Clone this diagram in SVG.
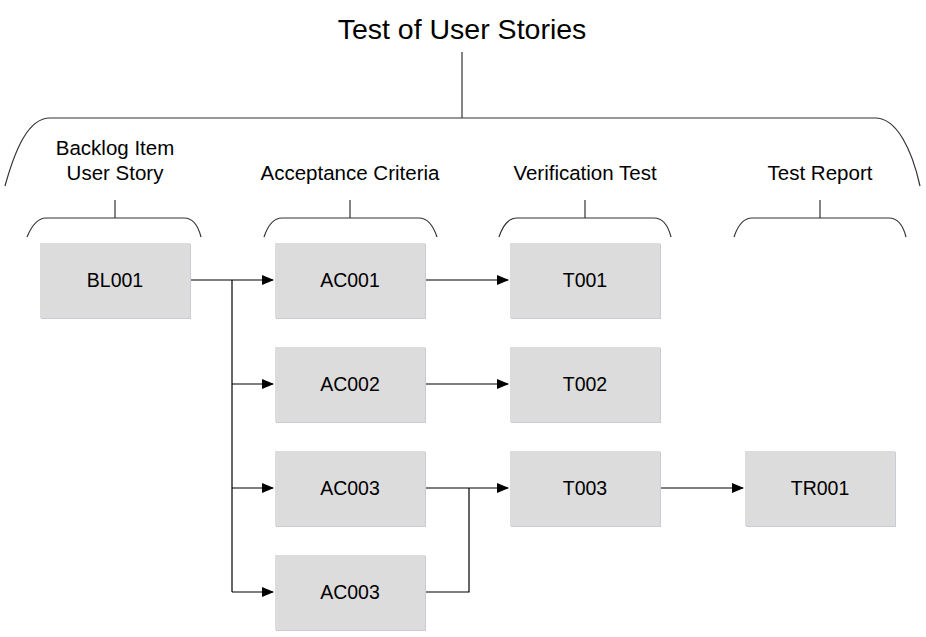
<svg xmlns="http://www.w3.org/2000/svg" width="926" height="637" viewBox="0 0 926 637">
<defs>
<style>
.box{fill:#dcdcdc;}
.shadow{fill:#c8ccd4;}
.nt{font-family:"Liberation Sans",Arial,sans-serif;font-size:19.5px;fill:#000;text-anchor:middle;}
.lbl{font-family:"Liberation Sans",Arial,sans-serif;font-size:20.5px;fill:#000;text-anchor:middle;}
.br{fill:none;stroke:#333;stroke-width:1.2;}
.cn{fill:none;stroke:#000;stroke-width:1.2;}
</style>
<marker id="ah" markerWidth="12" markerHeight="10" refX="11" refY="5" orient="auto" markerUnits="userSpaceOnUse">
<path d="M0,0 L12,5 L0,10 Z" fill="#000"/>
</marker>
</defs>
<rect width="926" height="637" fill="#fff"/>
<g id="title">
<text x="462" y="39" font-family="'Liberation Sans',Arial,sans-serif" font-size="28.5" text-anchor="middle">Test of User Stories</text>
<path class="br" d="M462,52 V118"/>
<path class="br" d="M5,186 C15,150 28,118 50,118 H875 C897,118 912,150 920,186"/>
</g>
<g id="labels">
<text class="lbl" x="115" y="155">Backlog Item</text>
<text class="lbl" x="115" y="180">User Story</text>
<text class="lbl" x="350" y="180">Acceptance Criteria</text>
<text class="lbl" x="585" y="180">Verification Test</text>
<text class="lbl" x="820" y="180">Test Report</text>
<path class="br" d="M115,200 V218 M27,237 C32,225 38,218 46,218 H184 C192,218 198,225 201,237"/>
<path class="br" d="M350,200 V218 M264,237 C268,225 274,218 282,218 H419 C427,218 433,225 437,237"/>
<path class="br" d="M585,200 V218 M499,237 C503,225 509,218 517,218 H654 C662,218 668,225 671,237"/>
<path class="br" d="M820,200 V218 M734,237 C738,225 744,218 752,218 H889 C897,218 903,225 906,237"/>
</g>
<g id="connectors">
<path class="cn" d="M190,280 H273" marker-end="url(#ah)"/>
<path class="cn" d="M232,280 V592"/>
<path class="cn" d="M232,384 H273" marker-end="url(#ah)"/>
<path class="cn" d="M232,488 H273" marker-end="url(#ah)"/>
<path class="cn" d="M232,592 H273" marker-end="url(#ah)"/>
<path class="cn" d="M425,280 H508" marker-end="url(#ah)"/>
<path class="cn" d="M425,384 H508" marker-end="url(#ah)"/>
<path class="cn" d="M425,488 H508" marker-end="url(#ah)"/>
<path class="cn" d="M425,592 H469 V488"/>
<path class="cn" d="M660,488 H743" marker-end="url(#ah)"/>
</g>
<g id="BL001"><rect class="shadow" x="41" y="244" width="150" height="75"/><rect class="box" x="40" y="243" width="150" height="75"/><text class="nt" x="115" y="287">BL001</text></g>
<g id="AC001"><rect class="shadow" x="276" y="244" width="150" height="75"/><rect class="box" x="275" y="243" width="150" height="75"/><text class="nt" x="350" y="287">AC001</text></g>
<g id="AC002"><rect class="shadow" x="276" y="348" width="150" height="75"/><rect class="box" x="275" y="347" width="150" height="75"/><text class="nt" x="350" y="391">AC002</text></g>
<g id="AC003a"><rect class="shadow" x="276" y="452" width="150" height="75"/><rect class="box" x="275" y="451" width="150" height="75"/><text class="nt" x="350" y="495">AC003</text></g>
<g id="AC003b"><rect class="shadow" x="276" y="556" width="150" height="75"/><rect class="box" x="275" y="555" width="150" height="75"/><text class="nt" x="350" y="599">AC003</text></g>
<g id="T001"><rect class="shadow" x="511" y="244" width="150" height="75"/><rect class="box" x="510" y="243" width="150" height="75"/><text class="nt" x="585" y="287">T001</text></g>
<g id="T002"><rect class="shadow" x="511" y="348" width="150" height="75"/><rect class="box" x="510" y="347" width="150" height="75"/><text class="nt" x="585" y="391">T002</text></g>
<g id="T003"><rect class="shadow" x="511" y="452" width="150" height="75"/><rect class="box" x="510" y="451" width="150" height="75"/><text class="nt" x="585" y="495">T003</text></g>
<g id="TR001"><rect class="shadow" x="746" y="452" width="150" height="75"/><rect class="box" x="745" y="451" width="150" height="75"/><text class="nt" x="820" y="495">TR001</text></g>
</svg>
